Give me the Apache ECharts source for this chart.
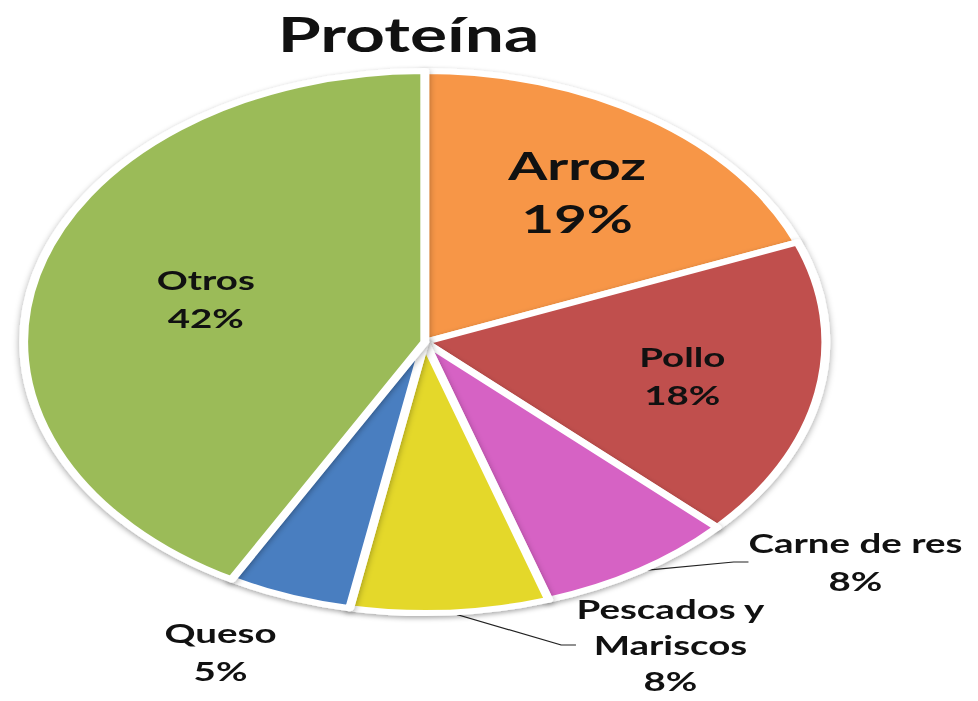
<!DOCTYPE html>
<html>
<head>
<meta charset="utf-8">
<script src="https://cdn.jsdelivr.net/npm/echarts@6/dist/echarts.min.js"></script>
<style>
  html, body { margin: 0; padding: 0; background: #fff; overflow: hidden; }
  /* the reference picture is stretched sideways, so draw narrow and stretch the box */
  #chart { width: 661px; height: 701px; transform: scaleX(1.48); transform-origin: 0 0; }
</style>
</head>
<body>
<div id="chart"></div>
<script>
// 数据
const categories = ['Arroz', 'Pollo', 'Carne de res', 'Pescados y\nMariscos', 'Queso', 'Otros'];
const values = [19, 18, 8, 8, 5, 42];
const colors = ['#F79646', '#C0504D', '#D662C4', '#E4D82C', '#4A7EC0', '#9BBB59'];

// 标签位置 (未拉伸坐标)
const labelPos = [
    [390, 192], [461, 376], [578, 562], [453, 645], [149, 652], [139, 299]
];
const insideLabels = [0, 1, 5];
const noLine = [4];

const chart = echarts.init(document.getElementById('chart'), null, { renderer: 'svg' });

const pieData = categories.map((name, i) => {
    const inside = insideLabels.includes(i);
    let label;
    if (i === 0) {
        label = { position: 'inside', fontSize: 38, lineHeight: 53 };
    } else if (i === 3) {
        label = { position: 'outside', fontSize: 26, lineHeight: 36 };
    } else {
        label = { position: inside ? 'inside' : 'outside', fontSize: 26, lineHeight: 38 };
    }
    return {
        name: name,
        value: values[i],
        itemStyle: { color: colors[i] },
        label: label,
        labelLine: { show: !inside && !noLine.includes(i) }
    };
});

chart.setOption({
    animation: false,
    title: {
        text: 'Proteína',
        left: 271,
        top: 5,
        textAlign: 'center',
        textStyle: { fontFamily: 'Lato', fontWeight: 'bold', fontSize: 47, color: '#111' }
    },
    series: [{
        type: 'pie',
        center: [287, 342],
        radius: 271,
        startAngle: 90,
        clockwise: true,
        data: pieData,
        itemStyle: {
            borderColor: '#fff',
            borderWidth: 6,
            shadowColor: 'rgba(0,0,0,0.35)',
            shadowBlur: 5,
            shadowOffsetY: 2
        },
        label: {
            show: true,
            formatter: '{b}\n{c}%',
            color: '#111',
            fontFamily: 'Lato',
            fontWeight: 'bold',
            align: 'center',
            overflow: 'none'
        },
        labelLine: {
            length: 10,
            length2: 10,
            lineStyle: { color: '#222', width: 1.2 }
        },
        labelLayout: function (params) {
            const p = labelPos[params.dataIndex];
            return { x: p[0], y: p[1], align: 'center', verticalAlign: 'middle' };
        }
    }]
});
</script>
</body>
</html>
